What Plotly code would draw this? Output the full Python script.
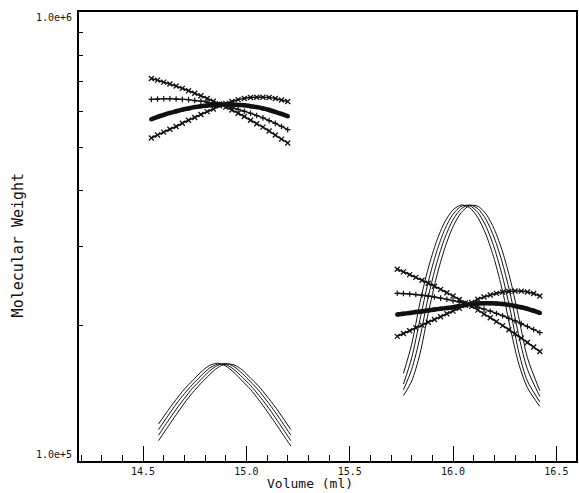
import plotly.graph_objects as go

# ---------------- data ----------------
# calibration curves, left group (Volume ml -> Molecular Weight)
vol_left = [14.54, 14.57, 14.60, 14.63, 14.66, 14.69, 14.72, 14.75, 14.78, 14.81, 14.84, 14.87,
            14.90, 14.93, 14.96, 14.99, 15.02, 15.05, 15.08, 15.11, 15.14, 15.17, 15.20]
mw_left_a = [7.11e5, 7.05e5, 6.98e5, 6.91e5, 6.84e5, 6.76e5, 6.68e5, 6.59e5, 6.51e5, 6.42e5, 6.33e5, 6.24e5,
             6.14e5, 6.05e5, 5.95e5, 5.85e5, 5.74e5, 5.64e5, 5.54e5, 5.43e5, 5.32e5, 5.21e5, 5.11e5]
mw_left_b = [6.39e5, 6.40e5, 6.41e5, 6.41e5, 6.40e5, 6.39e5, 6.38e5, 6.35e5, 6.33e5, 6.30e5, 6.26e5, 6.22e5,
             6.18e5, 6.12e5, 6.07e5, 6.01e5, 5.95e5, 5.88e5, 5.81e5, 5.73e5, 5.65e5, 5.56e5, 5.47e5]
mw_left_c = [5.77e5, 5.84e5, 5.90e5, 5.96e5, 6.01e5, 6.06e5, 6.10e5, 6.14e5, 6.17e5, 6.19e5, 6.21e5, 6.22e5,
             6.22e5, 6.22e5, 6.21e5, 6.20e5, 6.17e5, 6.14e5, 6.10e5, 6.05e5, 5.99e5, 5.93e5, 5.86e5]
mw_left_d = [5.24e5, 5.32e5, 5.40e5, 5.48e5, 5.56e5, 5.65e5, 5.74e5, 5.82e5, 5.91e5, 6.00e5, 6.08e5, 6.18e5,
             6.26e5, 6.32e5, 6.38e5, 6.42e5, 6.45e5, 6.46e5, 6.46e5, 6.45e5, 6.42e5, 6.37e5, 6.32e5]

# calibration curves, right group
vol_right = [15.73, 15.76, 15.79, 15.82, 15.85, 15.88, 15.91, 15.94, 15.97, 16.00, 16.03, 16.06,
             16.09, 16.12, 16.15, 16.18, 16.21, 16.24, 16.27, 16.30, 16.33, 16.36, 16.39, 16.42]
mw_right_a = [2.674e5, 2.638e5, 2.601e5, 2.564e5, 2.527e5, 2.489e5, 2.450e5, 2.411e5, 2.370e5, 2.331e5, 2.290e5, 2.250e5,
              2.210e5, 2.168e5, 2.126e5, 2.085e5, 2.044e5, 2.002e5, 1.961e5, 1.919e5, 1.878e5, 1.836e5, 1.794e5, 1.753e5]
mw_right_b = [2.363e5, 2.360e5, 2.355e5, 2.348e5, 2.339e5, 2.330e5, 2.319e5, 2.306e5, 2.292e5, 2.276e5, 2.260e5, 2.242e5,
              2.222e5, 2.201e5, 2.179e5, 2.156e5, 2.131e5, 2.106e5, 2.079e5, 2.051e5, 2.023e5, 1.993e5, 1.963e5, 1.932e5]
mw_right_c = [2.120e5, 2.128e5, 2.137e5, 2.146e5, 2.155e5, 2.164e5, 2.174e5, 2.183e5, 2.192e5, 2.201e5, 2.213e5, 2.226e5,
              2.236e5, 2.242e5, 2.245e5, 2.245e5, 2.242e5, 2.236e5, 2.227e5, 2.215e5, 2.200e5, 2.182e5, 2.161e5, 2.137e5]
mw_right_d = [1.895e5, 1.923e5, 1.951e5, 1.979e5, 2.007e5, 2.037e5, 2.066e5, 2.096e5, 2.127e5, 2.157e5, 2.189e5, 2.221e5,
              2.255e5, 2.293e5, 2.318e5, 2.342e5, 2.362e5, 2.377e5, 2.386e5, 2.391e5, 2.390e5, 2.379e5, 2.360e5, 2.331e5]

# elution peaks (thin lines), left peak
peak_vol_left = [14.575, 14.62, 14.66, 14.70, 14.74, 14.78, 14.82, 14.86, 14.90,
                 14.94, 14.98, 15.02, 15.06, 15.10, 15.14, 15.18, 15.215]
peak_left_1 = [1.209e5, 1.295e5, 1.371e5, 1.446e5, 1.511e5, 1.577e5, 1.631e5, 1.651e5, 1.628e5,
               1.574e5, 1.508e5, 1.443e5, 1.368e5, 1.291e5, 1.215e5, 1.140e5, 1.080e5]
peak_left_2 = [1.175e5, 1.260e5, 1.339e5, 1.412e5, 1.482e5, 1.547e5, 1.608e5, 1.642e5, 1.639e5,
               1.599e5, 1.537e5, 1.473e5, 1.401e5, 1.327e5, 1.249e5, 1.173e5, 1.110e5]
peak_left_3 = [1.141e5, 1.226e5, 1.303e5, 1.378e5, 1.454e5, 1.518e5, 1.584e5, 1.632e5, 1.649e5,
               1.623e5, 1.567e5, 1.502e5, 1.435e5, 1.360e5, 1.284e5, 1.207e5, 1.141e5]
peak_left_4 = [1.110e5, 1.192e5, 1.267e5, 1.346e5, 1.420e5, 1.489e5, 1.554e5, 1.613e5, 1.644e5,
               1.637e5, 1.595e5, 1.530e5, 1.467e5, 1.393e5, 1.319e5, 1.241e5, 1.175e5]

# right peak
peak_vol_right = [15.76, 15.80, 15.84, 15.88, 15.92, 15.96, 16.00, 16.04, 16.08,
                  16.12, 16.16, 16.20, 16.24, 16.28, 16.32, 16.36, 16.42]
peak_right_1 = [1.567e5, 1.821e5, 2.253e5, 2.686e5, 3.082e5, 3.407e5, 3.625e5, 3.717e5, 3.666e5,
                3.484e5, 3.188e5, 2.810e5, 2.384e5, 1.949e5, 1.634e5, 1.456e5, 1.323e5]
peak_right_2 = [1.484e5, 1.698e5, 2.067e5, 2.504e5, 2.920e5, 3.280e5, 3.547e5, 3.694e5, 3.704e5,
                3.577e5, 3.327e5, 2.979e5, 2.569e5, 2.133e5, 1.733e5, 1.507e5, 1.354e5]
peak_right_3 = [1.441e5, 1.600e5, 1.885e5, 2.319e5, 2.748e5, 3.137e5, 3.447e5, 3.648e5, 3.717e5,
                3.648e5, 3.447e5, 3.137e5, 2.748e5, 2.319e5, 1.885e5, 1.600e5, 1.392e5]
peak_right_4 = [1.399e5, 1.507e5, 1.733e5, 2.133e5, 2.569e5, 2.979e5, 3.327e5, 3.577e5, 3.704e5,
                3.694e5, 3.547e5, 3.280e5, 2.920e5, 2.504e5, 2.067e5, 1.698e5, 1.434e5]

# axis ticks / labels
xtick_vals = [14.5, 15.0, 15.5, 16.0, 16.5]
xtick_text = ["14.5", "15.0", "15.5", "16.0", "16.5"]
ytick_vals = [1e5, 1e6]
ytick_text = ["1.0e+5", "1.0e+6"]
ytick_minor = [2e5, 3e5, 4e5, 5e5, 6e5, 7e5, 8e5, 9e5]
x_title = "Volume (ml)"
y_title = "Molecular Weight"

# ---------------- figure ----------------
INK = "#111111"
fig = go.Figure()

peak_line = dict(color=INK, width=1, shape="spline", smoothing=0.8)
for vols, series in [(peak_vol_left, [peak_left_1, peak_left_2, peak_left_3, peak_left_4]),
                     (peak_vol_right, [peak_right_1, peak_right_2, peak_right_3, peak_right_4])]:
    for s in series:
        fig.add_trace(go.Scatter(x=vols, y=s, mode="lines", line=peak_line,
                                 showlegend=False, hoverinfo="skip"))

x_style = dict(mode="lines+markers", line=dict(color=INK, width=1.6, shape="spline"),
               marker=dict(symbol="x-thin", size=5, line=dict(color=INK, width=1.3)))
plus_style = dict(mode="lines+markers", line=dict(color=INK, width=1.4, shape="spline"),
                  marker=dict(symbol="cross-thin", size=4, line=dict(color=INK, width=1.2)))
thick_style = dict(mode="lines+markers", line=dict(color=INK, width=4.5, shape="spline"),
                   marker=dict(symbol="circle", size=4.5, color=INK))

for vols, a, b, c, d in [(vol_left, mw_left_a, mw_left_b, mw_left_c, mw_left_d),
                         (vol_right, mw_right_a, mw_right_b, mw_right_c, mw_right_d)]:
    fig.add_trace(go.Scatter(x=vols, y=a, showlegend=False, **x_style))
    fig.add_trace(go.Scatter(x=vols, y=b, showlegend=False, **plus_style))
    fig.add_trace(go.Scatter(x=vols, y=c, showlegend=False, **thick_style))
    fig.add_trace(go.Scatter(x=vols, y=d, showlegend=False, **x_style))

tick_font = dict(family="DejaVu Sans Mono", size=10, color=INK)

fig.update_xaxes(
    range=[14.19, 16.595], showgrid=False, zeroline=False,
    showline=True, linecolor="black", linewidth=1.5, mirror=True,
    tickmode="array", tickvals=xtick_vals, ticktext=xtick_text,
    ticks="inside", ticklen=15, tickwidth=1, tickcolor="black",
    tickfont=tick_font,
    minor=dict(ticks="inside", ticklen=6, tickwidth=1, tickcolor="black",
               dtick=0.1, tick0=14.5, showgrid=False),
)
fig.update_yaxes(
    type="log", range=[5, 6], showgrid=False, zeroline=False,
    showline=True, linecolor="black", linewidth=1.5, mirror=True,
    tickmode="array", tickvals=ytick_vals, ticktext=ytick_text,
    showticklabels=False, ticks="",
    minor=dict(ticks="inside", ticklen=4, tickwidth=1, tickcolor="black",
               tickmode="array", tickvals=ytick_minor, showgrid=False),
)

annotations = []
for v, t, shift in zip(ytick_vals, ytick_text, [7, -5]):
    annotations.append(dict(x=0, xref="paper", y=[5, 6][ytick_vals.index(v)], yref="y",
                            text=t, showarrow=False, xanchor="right", yanchor="middle",
                            xshift=-5, yshift=shift, font=tick_font))
annotations.append(dict(x=0.464, xref="paper", y=-0.049, yref="paper", text=x_title,
                        showarrow=False, xanchor="center", yanchor="middle",
                        font=dict(family="DejaVu Sans Mono", size=13, color=INK)))
annotations.append(dict(x=-0.122, xref="paper", y=0.481, yref="paper", text=y_title,
                        showarrow=False, xanchor="center", yanchor="middle", textangle=-90,
                        font=dict(family="DejaVu Sans Mono", size=15, color=INK)))

fig.update_layout(
    width=579, height=493,
    margin=dict(l=79, r=1, t=12, b=32),
    paper_bgcolor="white", plot_bgcolor="white",
    annotations=annotations,
    showlegend=False,
)

fig.write_html("out.html")
